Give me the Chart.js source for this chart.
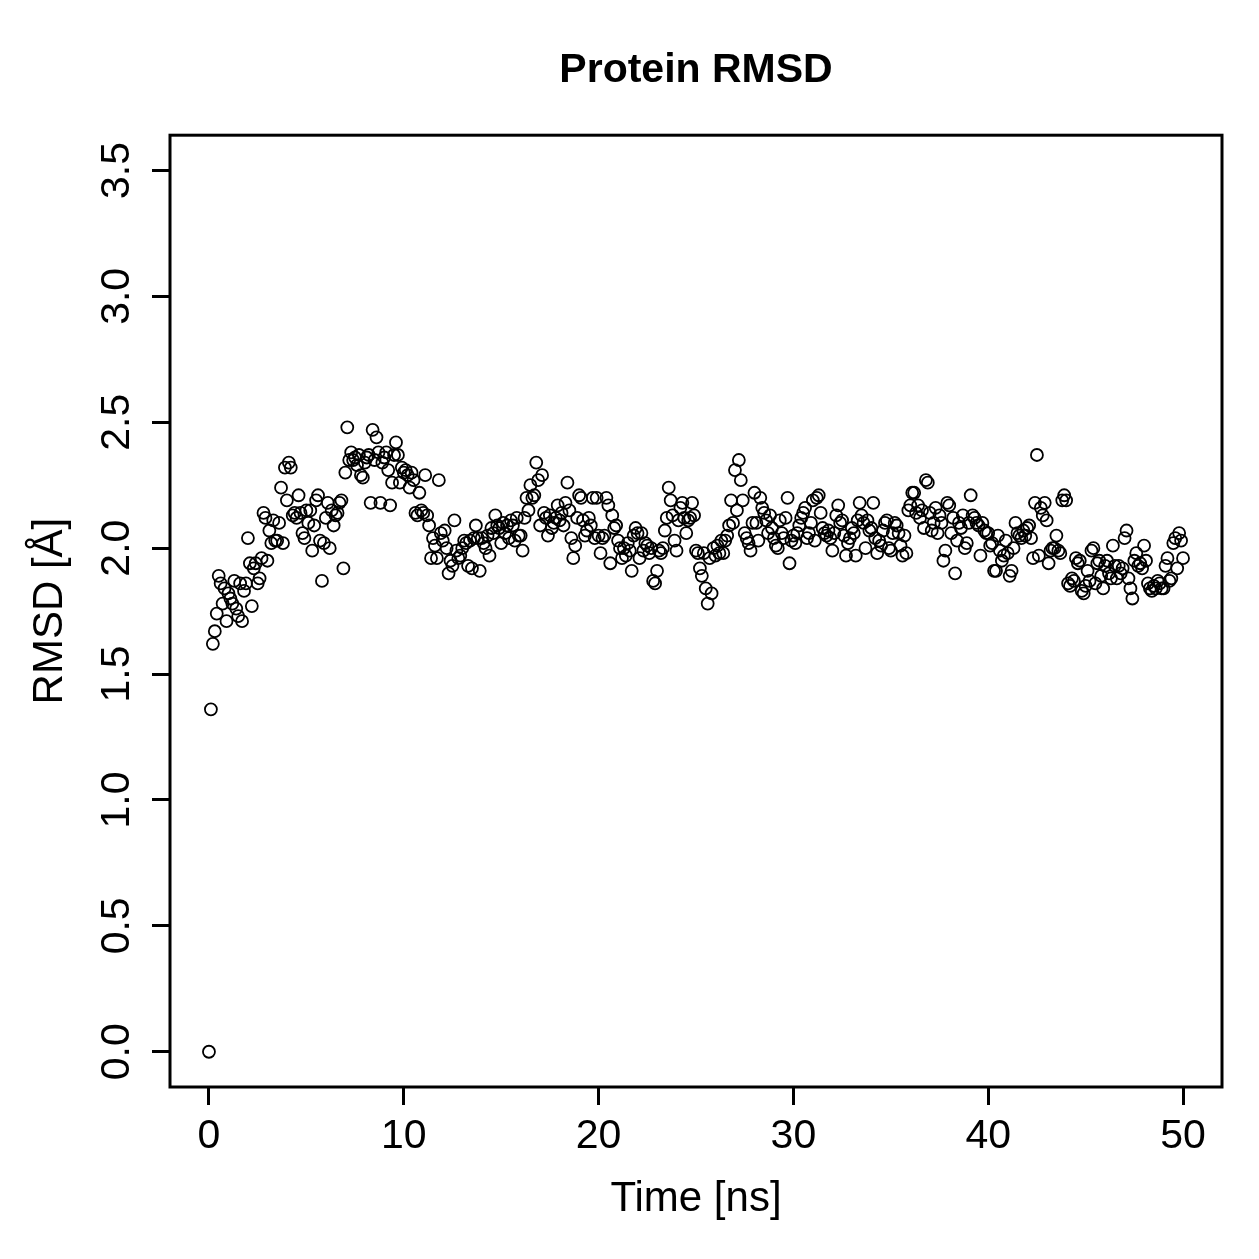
<!DOCTYPE html>
<html>
<head>
<meta charset="utf-8">
<script src="https://cdn.jsdelivr.net/npm/chart.js@4/dist/chart.umd.min.js"></script>
<style>
  html, body { margin: 0; padding: 0; background: #ffffff; }
  #wrap { width: 1259px; height: 1259px; }
</style>
</head>
<body>
<div id="wrap"><canvas id="c" width="1259" height="1259"></canvas></div>
<script>
// ---- data ----
const chartTitle = 'Protein RMSD';
const xAxisTitle = 'Time [ns]';
const yAxisTitle = 'RMSD [Å]';
const timeStepNs = 0.1;           // sampling interval of the trajectory
const xTickValues = [0, 10, 20, 30, 40, 50];
const xTickLabels = ['0', '10', '20', '30', '40', '50'];
const yTickValues = [0, 0.5, 1, 1.5, 2, 2.5, 3, 3.5];
const yTickLabels = ['0.0', '0.5', '1.0', '1.5', '2.0', '2.5', '3.0', '3.5'];

// RMSD values, one every 0.1 ns
const rmsd0to10 = [
  0.00, 1.36, 1.62, 1.67, 1.74, 1.89, 1.86, 1.78, 1.84, 1.71,
  1.82, 1.80, 1.78, 1.87, 1.76, 1.73, 1.86, 1.71, 1.83, 1.86,
  2.04, 1.94, 1.77, 1.92, 1.94, 1.86, 1.88, 1.96, 2.14, 2.12,
  1.95, 2.07, 2.02, 2.11, 2.03, 2.03, 2.10, 2.24, 2.02, 2.32,
  2.19, 2.34, 2.32, 2.13, 2.14, 2.12, 2.21, 2.14, 2.06, 2.04,
  2.15, 2.10, 2.15, 1.99, 2.09, 2.19, 2.21, 2.03, 1.87, 2.02,
  2.12, 2.18, 2.00, 2.15, 2.09, 2.13, 2.14, 2.18, 2.19, 1.92,
  2.30, 2.48, 2.35, 2.38, 2.35, 2.36, 2.33, 2.37, 2.29, 2.28,
  2.34, 2.36, 2.37, 2.18, 2.47, 2.35, 2.44, 2.38, 2.18, 2.34,
  2.36, 2.38, 2.31, 2.17, 2.26, 2.37, 2.42, 2.37, 2.26, 2.32
];
const rmsd10to20 = [
  2.30, 2.31, 2.29, 2.24, 2.30, 2.27, 2.14, 2.13, 2.22, 2.15,
  2.14, 2.29, 2.13, 2.09, 1.96, 2.04, 2.01, 1.96, 2.27, 2.06,
  2.03, 2.07, 2.00, 1.90, 1.95, 1.93, 2.11, 1.99, 1.96, 1.97,
  2.00, 2.03, 2.02, 1.93, 2.03, 1.92, 2.04, 2.09, 2.04, 1.91,
  2.04, 2.02, 2.00, 2.05, 1.97, 2.08, 2.06, 2.13, 2.09, 2.08,
  2.02, 2.10, 2.06, 2.09, 2.04, 2.11, 2.09, 2.03, 2.12, 2.05,
  2.05, 1.99, 2.12, 2.20, 2.15, 2.25, 2.20, 2.21, 2.34, 2.27,
  2.09, 2.29, 2.14, 2.12, 2.05, 2.13, 2.08, 2.10, 2.12, 2.17,
  2.11, 2.14, 2.09, 2.18, 2.26, 2.15, 2.04, 1.96, 2.01, 2.12,
  2.21, 2.20, 2.11, 2.05, 2.07, 2.12, 2.09, 2.20, 2.04, 2.20
];
const rmsd20to30 = [
  2.05, 1.98, 2.04, 2.05, 2.20, 2.17, 1.94, 2.13, 2.08, 2.09,
  2.03, 2.00, 1.96, 2.00, 1.97, 2.02, 1.99, 1.91, 2.05, 2.08,
  2.06, 1.96, 2.06, 1.99, 2.02, 2.01, 1.98, 2.00, 1.87, 1.86,
  1.91, 1.99, 1.98, 2.00, 2.07, 2.12, 2.24, 2.19, 2.13, 2.03,
  1.99, 2.11, 2.16, 2.18, 2.12, 2.06, 2.11, 2.12, 2.18, 2.13,
  1.99, 1.98, 1.92, 1.89, 1.98, 1.84, 1.78, 1.96, 1.82, 2.00,
  1.97, 2.01, 1.98, 2.03, 1.98, 2.03, 2.05, 2.09, 2.19, 2.10,
  2.31, 2.15, 2.35, 2.27, 2.19, 2.06, 2.04, 2.02, 1.99, 2.10,
  2.22, 2.10, 2.03, 2.20, 2.16, 2.14, 2.11, 2.06, 2.13, 2.08,
  2.04, 2.01, 2.00, 2.11, 2.06, 2.04, 2.12, 2.20, 1.94, 2.03
];
const rmsd30to40 = [
  2.05, 2.02, 2.06, 2.09, 2.12, 2.14, 2.16, 2.04, 2.06, 2.10,
  2.19, 2.03, 2.20, 2.21, 2.14, 2.08, 2.06, 2.05, 2.07, 2.04,
  1.99, 2.06, 2.13, 2.17, 2.10, 2.11, 2.05, 1.97, 2.02, 2.04,
  2.08, 2.06, 1.97, 2.11, 2.18, 2.13, 2.10, 2.00, 2.11, 2.07,
  2.08, 2.18, 2.04, 1.98, 2.03, 2.01, 2.07, 2.10, 2.11, 2.00,
  1.99, 2.06, 2.10, 2.09, 2.06, 2.01, 1.97, 2.05, 1.98, 2.15,
  2.17, 2.22, 2.22, 2.14, 2.17, 2.12, 2.15, 2.08, 2.27, 2.26,
  2.14, 2.07, 2.10, 2.16, 2.06, 2.13, 2.10, 1.95, 1.99, 2.18,
  2.17, 2.06, 2.12, 1.90, 2.03, 2.10, 2.08, 2.13, 2.00, 2.02,
  2.10, 2.21, 2.13, 2.12, 2.10, 2.09, 1.97, 2.10, 2.07, 2.06
];
const rmsd40to50 = [
  2.06, 2.01, 2.02, 1.91, 1.91, 2.05, 1.99, 1.95, 1.97, 2.03,
  1.98, 1.89, 1.91, 2.00, 2.10, 2.06, 2.05, 2.04, 2.07, 2.05,
  2.08, 2.09, 2.04, 1.96, 2.18, 2.37, 1.97, 2.16, 2.13, 2.18,
  2.11, 1.94, 1.99, 2.00, 2.00, 2.05, 1.99, 1.98, 2.19, 2.21,
  2.19, 1.86, 1.85, 1.88, 1.87, 1.96, 1.94, 1.95, 1.83, 1.82,
  1.85, 1.91, 1.87, 1.99, 2.00, 1.86, 1.94, 1.95, 1.89, 1.84,
  1.93, 1.95, 1.90, 1.88, 2.01, 1.93, 1.88, 1.93, 1.90, 1.92,
  2.04, 2.07, 1.88, 1.84, 1.80, 1.95, 1.98, 1.93, 1.94, 1.92,
  2.01, 1.95, 1.86, 1.84, 1.83, 1.85, 1.84, 1.87, 1.86, 1.84,
  1.84, 1.93, 1.96, 1.87, 1.88, 2.02, 2.04, 1.92, 2.06, 2.03,
  1.96
];

const rmsdAll = rmsd0to10.concat(rmsd10to20, rmsd20to30, rmsd30to40, rmsd40to50);
const points = rmsdAll.map((v, i) => ({ x: Math.round(i * timeStepNs * 10) / 10, y: v }));

// ---- styling / layout ----
const FONT = "'Liberation Sans', Arial, Helvetica, sans-serif";
const PLOT = { left: 170, right: 1222, top: 135, bottom: 1087 };
const W = 1259, H = 1259;

const boxPlugin = {
  id: 'box',
  afterDraw(chart) {
    const a = chart.chartArea, ctx = chart.ctx;
    ctx.save();
    ctx.strokeStyle = '#000';
    ctx.lineWidth = 3;
    ctx.strokeRect(a.left, a.top, a.right - a.left, a.bottom - a.top);
    ctx.restore();
  }
};

new Chart(document.getElementById('c'), {
  type: 'scatter',
  data: {
    datasets: [{
      data: points,
      pointStyle: 'circle',
      pointRadius: 6,
      pointHoverRadius: 6,
      pointBorderWidth: 1.8,
      pointBorderColor: '#000',
      pointBackgroundColor: 'rgba(0,0,0,0)',
      showLine: false
    }]
  },
  options: {
    responsive: false,
    devicePixelRatio: 1,
    animation: false,
    events: [],
    layout: { padding: { left: 0, right: W - PLOT.right, top: 0, bottom: 0 } },
    plugins: {
      legend: { display: false },
      tooltip: { enabled: false },
      title: {
        display: true,
        fullSize: false,
        text: chartTitle,
        color: '#000',
        font: { family: FONT, size: 41, weight: 'bold', lineHeight: 1.2 },
        padding: { top: 46, bottom: 40 }
      }
    },
    scales: {
      x: {
        type: 'linear',
        min: -2, max: 52,
        afterFit(s) { s.height = H - PLOT.bottom; },
        afterBuildTicks(s) { s.ticks = xTickValues.map(v => ({ value: v })); },
        border: { display: false },
        grid: { display: true, drawOnChartArea: false, drawTicks: true, tickLength: 18, tickWidth: 3, tickColor: '#000' },
        ticks: {
          color: '#000',
          font: { family: FONT, size: 41, lineHeight: 1.2 },
          padding: 7,
          maxRotation: 0, minRotation: 0,
          callback(v) { const i = xTickValues.indexOf(v); return i >= 0 ? xTickLabels[i] : ''; }
        },
        title: {
          display: true, text: xAxisTitle, color: '#000',
          font: { family: FONT, size: 42, lineHeight: 1.2 },
          padding: { top: 0, bottom: 34 }
        }
      },
      y: {
        type: 'linear',
        min: -0.14, max: 3.64,
        afterFit(s) { s.width = PLOT.left; },
        afterBuildTicks(s) { s.ticks = yTickValues.map(v => ({ value: v })); },
        border: { display: false },
        grid: { display: true, drawOnChartArea: false, drawTicks: true, tickLength: 18, tickWidth: 3, tickColor: '#000' },
        ticks: {
          color: '#000',
          font: { family: FONT, size: 41, lineHeight: 1.2 },
          padding: 6,
          crossAlign: 'center',
          minRotation: 90, maxRotation: 90,
          callback(v) { const i = yTickValues.indexOf(v); return i >= 0 ? yTickLabels[i] : ''; }
        },
        title: {
          display: true, text: yAxisTitle, color: '#000',
          font: { family: FONT, size: 42, lineHeight: 1.2 },
          padding: { top: 25, bottom: 0 }
        }
      }
    }
  },
  plugins: [boxPlugin]
});
</script>
</body>
</html>
